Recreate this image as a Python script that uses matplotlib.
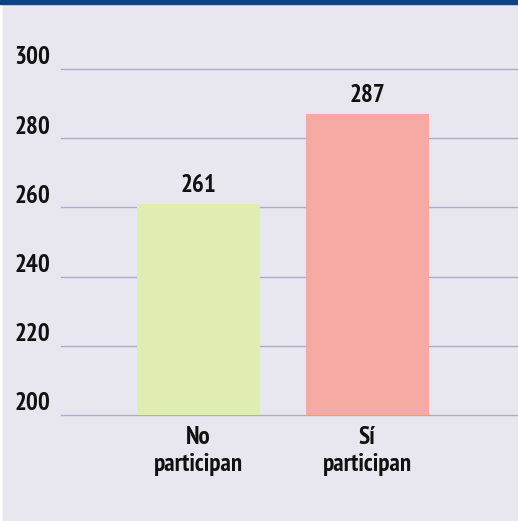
import matplotlib
matplotlib.use("Agg")
import matplotlib.pyplot as plt
from matplotlib.patches import Rectangle
from matplotlib import font_manager
from matplotlib.font_manager import FontProperties

categories = ["No\nparticipan", "Sí\nparticipan"]
values = [261, 287]
colors = ["#DFEDB0", "#F5ABA3"]
yticks = [200, 220, 240, 260, 280, 300]

# pick a narrow bold-ish sans font
best = None
for f in font_manager.fontManager.ttflist:
    n = f.name.lower()
    fn = f.fname.lower().replace("-", "").replace("_", "")
    st = f.stretch if isinstance(f.stretch, str) else ""
    if "italic" in fn or "italic" in f.style or "oblique" in f.style:
        continue
    if "mono" in n or ("serif" in n and "sans" not in n):
        continue
    if "extracondensed" in fn:
        r = 0
    elif "semicondensed" in fn:
        r = 2
    elif "narrow" in n or "condensed" in fn or "condensed" in n or st in ("condensed", "extra-condensed"):
        r = 1
    else:
        continue
    if "noto" not in n and "narrow" not in n:
        r += 3
    w = f.weight if isinstance(f.weight, int) else {"bold": 700, "semibold": 600, "demibold": 600, "medium": 500, "normal": 400, "regular": 400}.get(str(f.weight), 400)
    score = (r, abs(w - 600))
    if best is None or score < best[0]:
        best = (score, f.fname)
if best:
    FP = FontProperties(fname=best[1], size=18)
else:
    FP = FontProperties(family="DejaVu Sans", weight="bold", size=14)

W, H = 518, 521
fig = plt.figure(figsize=(W/100, H/100), dpi=100)
bg = "#E8E7F0"
fig.patch.set_facecolor("white")
fig.add_artist(Rectangle((3/W, 0), 1, 1, transform=fig.transFigure, color=bg, zorder=-10))
fig.add_artist(Rectangle((0, 1-3.5/H), 1, 3.5/H, transform=fig.transFigure, color="#0D4380", zorder=-5))

left, right = 61, 518
top, bottom = 69, 415
ax = fig.add_axes([left/W, 1-bottom/H, (right-left)/W, (bottom-top)/H])
ax.set_facecolor("none")
ax.set_ylim(200, 300)
ax.set_xlim(-0.816, 1.896)
x = list(range(len(values)))
ax.bar(x, [v-200 for v in values], bottom=200, width=0.73, color=colors, zorder=2)
pxy = 100/346  # data units per pixel
for xi, v in zip(x, values):
    ax.text(xi, v + 18*pxy, str(v), ha="center", va="center", fontproperties=FP, color="#111111")
for t in yticks:
    ax.axhline(t, color="#A9AECF", lw=1.0, zorder=1, clip_on=False)
    ax.text(-0.816 - 11/168.5, t + 11*pxy, str(t), ha="right", va="center",
            fontproperties=FP, color="#111111", clip_on=False)
ax.set_yticks([])
ax.set_xticks([])
for xi, c in zip(x, categories):
    l1, l2 = c.split("\n")
    ax.text(xi, 200 - 22*pxy, l1, ha="center", va="center", fontproperties=FP, color="#111111", clip_on=False)
    ax.text(xi, 200 - 50*pxy, l2, ha="center", va="center", fontproperties=FP, color="#111111", clip_on=False)
for s in ax.spines.values():
    s.set_visible(False)
fig.savefig("out.png", dpi=100, facecolor=fig.get_facecolor())
